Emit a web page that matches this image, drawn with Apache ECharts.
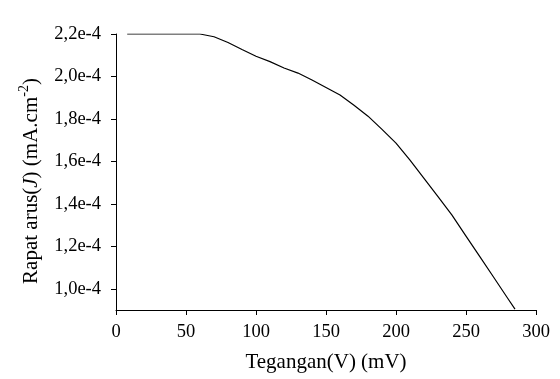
<!DOCTYPE html>
<html>
<head>
<meta charset="utf-8">
<script src="https://cdn.jsdelivr.net/npm/echarts@6/dist/echarts.min.js"></script>
<style>
  html, body { margin: 0; padding: 0; background: #fff; }
  #main { width: 560px; height: 379px; }
</style>
</head>
<body>
<div id="main"></div>
<script>
// tegangan (mV)
var voltage = [8, 20, 30, 40, 50, 60, 70, 80, 90, 100, 110, 120, 130, 140, 150,
               160, 170, 180, 190, 200, 210, 220, 230, 240, 250, 260, 270, 280, 285];
// rapat arus (x 1e-4 mA.cm-2)
var current = [2.20, 2.20, 2.20, 2.20, 2.20, 2.20, 2.187, 2.16, 2.127, 2.095, 2.07, 2.04, 2.016, 1.983, 1.948,
               1.913, 1.864, 1.813, 1.751, 1.686, 1.606, 1.52, 1.434, 1.347, 1.248, 1.15, 1.052, 0.953, 0.904];
var yTicks = ['1.0', '1.2', '1.4', '1.6', '1.8', '2.0', '2.2'];

var font = 'Liberation Serif';

var pts = [];
for (var i = 0; i < voltage.length; i++) {
    pts.push([voltage[i], parseFloat(current[i] + 'e-4')]);
}
// parse "2.2e-4" directly so the top tick is exactly the axis max
var yTickVals = yTicks.map(function (t) { return parseFloat(t + 'e-4'); });

var chart = echarts.init(document.getElementById('main'));
chart.setOption({
    animation: false,
    backgroundColor: '#fff',
    grid: { left: 116, right: 24, top: 34, bottom: 69 },
    xAxis: {
        type: 'value',
        min: 0, max: 300, interval: 50,
        name: 'Tegangan(V) (mV)',
        nameLocation: 'middle',
        nameGap: 42,
        nameTextStyle: { fontFamily: font, fontSize: 21, color: '#000' },
        axisLine: { lineStyle: { color: '#000', width: 1 } },
        axisTick: { length: 5, lineStyle: { color: '#000' } },
        axisLabel: { fontFamily: font, fontSize: 18.5, color: '#000', margin: 13 },
        splitLine: { show: false }
    },
    yAxis: {
        type: 'value',
        min: 0.9e-4, max: 2.2e-4,
        name: '{n|Rapat arus(}{i|J}{n|) (mA.cm}{s|-2}{n|)}',
        nameLocation: 'middle',
        nameRotate: 90,
        nameGap: 70,
        nameTextStyle: {
            fontFamily: font, fontSize: 21, color: '#000',
            padding: [0, 18, 0, 0],
            rich: {
                n: { fontFamily: font, fontSize: 21, color: '#000' },
                i: { fontFamily: font, fontSize: 21, color: '#000', fontStyle: 'italic' },
                s: { fontFamily: font, fontSize: 14, color: '#000', verticalAlign: 'top', padding: [0, 0, 15, 0] }
            }
        },
        axisLine: { show: true, lineStyle: { color: '#000', width: 1 } },
        axisTick: { show: true, length: 5, customValues: yTickVals, lineStyle: { color: '#000' } },
        axisLabel: {
            fontFamily: font, fontSize: 18.5, color: '#000', margin: 15,
            customValues: yTickVals,
            formatter: function (v) {
                return (v * 1e4).toFixed(1).replace('.', ',') + 'e-4';
            }
        },
        splitLine: { show: false }
    },
    series: [{
        type: 'line',
        data: pts,
        showSymbol: false,
        lineStyle: { color: '#000', width: 1.2 }
    }]
});
</script>
</body>
</html>
